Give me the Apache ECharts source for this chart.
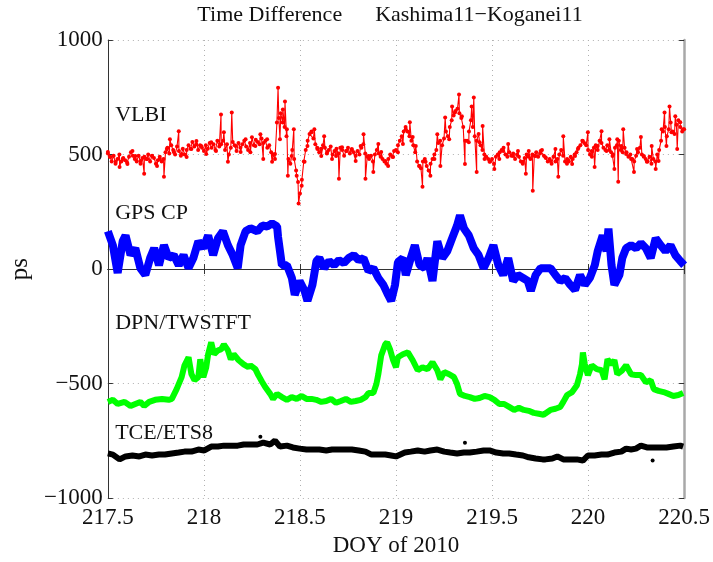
<!DOCTYPE html>
<html><head><meta charset="utf-8">
<script src="https://cdn.jsdelivr.net/npm/echarts@6/dist/echarts.min.js"></script>
<style>html,body{margin:0;padding:0;background:#fff}#c{width:713px;height:562px}</style>
</head><body><div id="c"></div>
<script>
// ---- data (DOY, ps) ----
const xMin = 217.5, xMax = 220.5, xStep = 0.5;
const yMin = -1000, yMax = 1000, yStep = 500;
const titleText = 'Time Difference      Kashima11\u2212Koganei11';

// VLBI: individual readings (incl. spikes)
const vlbi = [[217.500,511],[217.515,489],[217.541,468],[217.561,446],[217.577,481],[217.602,459],[217.628,515],[217.643,494],[217.669,472],[217.689,416],[217.705,481],[217.730,494],[217.756,450],[217.771,481],[217.792,403],[217.807,524],[217.823,567],[217.843,511],[217.869,602],[217.884,502],[217.910,489],[217.935,524],[217.961,559],[217.986,537],[218.012,502],[218.038,554],[218.063,515],[218.089,675],[218.104,597],[218.125,468],[218.145,684],[218.166,537],[218.191,511],[218.217,567],[218.242,510],
[218.268,537],[218.294,589],[218.309,481],[218.329,567],[218.355,468],[218.370,502],[218.386,792],[218.396,567],[218.411,697],[218.422,732],[218.432,610],[218.437,407],[218.457,494],[218.468,610],[218.483,407],[218.493,286],[218.509,364],[218.524,468],[218.539,537],[218.560,597],[218.575,610],[218.591,524],[218.611,494],[218.626,580],[218.642,511],[218.667,481],[218.688,494],[218.703,394],[218.719,532],[218.744,515],[218.770,524],[218.790,472],[218.816,537],[218.831,589],[218.841,394],[218.857,494],[218.882,424],[218.908,546],[218.923,511],[218.944,472],[218.959,450],[218.985,489],[219.010,510],
[219.036,546],[219.051,610],[219.072,641],[219.087,576],[219.103,537],[219.123,450],[219.138,359],[219.154,468],[219.179,407],[219.200,481],[219.215,589],[219.231,450],[219.256,662],[219.277,567],[219.292,710],[219.307,684],[219.328,762],[219.343,667],[219.359,459],[219.379,554],[219.394,710],[219.405,749],[219.420,424],[219.435,554],[219.451,624],[219.461,481],[219.487,468],[219.512,437],[219.538,481],[219.558,515],[219.584,546],[219.609,494],[219.635,515],[219.661,468],[219.676,416],[219.691,515],[219.712,342],[219.727,494],[219.753,515],[219.778,488],
[219.804,472],[219.830,524],[219.845,403],[219.871,580],[219.891,481],[219.917,459],[219.932,494],[219.947,524],[219.973,559],[219.999,597],[220.019,515],[220.034,446],[220.050,537],[220.070,602],[220.096,515],[220.111,567],[220.127,494],[220.137,437],[220.152,567],[220.157,381],[220.173,537],[220.183,610],[220.198,502],[220.224,481],[220.239,424],[220.255,524],[220.275,576],[220.290,494],[220.306,468],[220.331,537],[220.352,437],[220.367,472],[220.383,610],[220.398,684],[220.408,537],[220.424,710],[220.434,597],[220.454,667],[220.464,524],[220.480,641],[220.495,610]];

// VLBI dense core, one reading every 0.01 day starting at 217.50
const vlbiCoreStart = 217.5, vlbiCoreStep = 0.01;
const vlbiCore = [
505,490,470,495,460,480,500,470,485,475,
465,490,510,495,480,470,495,460,485,490,
480,500,470,495,485,460,475,490,470,480,
510,530,505,540,520,500,535,515,495,525,
500,520,540,525,555,535,545,520,540,530,
515,540,525,550,530,545,520,560,535,545,
560,520,545,500,530,555,540,515,550,530,
545,560,535,520,550,575,540,565,555,545,
570,550,560,530,540,510,500,480,640,660,
680,640,620,580,480,460,520,480,430,380,
330,390,470,520,560,590,600,570,545,530,
510,525,540,530,505,520,535,500,515,525,
505,530,520,495,515,530,505,520,510,495,
515,500,530,545,505,490,480,495,470,500,
520,505,490,480,470,460,480,500,490,515,
520,540,560,580,600,620,600,580,560,540,
510,470,450,440,470,480,450,430,460,480,
500,520,550,560,540,570,600,580,620,650,
670,690,700,680,660,620,560,560,600,650,
620,580,560,590,540,520,500,490,480,470,
480,460,490,500,510,520,530,500,490,510,
495,505,480,500,490,470,460,485,500,490,
480,500,495,510,490,505,520,495,485,470,
480,460,490,470,480,500,520,495,470,460,
470,490,480,500,510,530,540,560,550,540,
520,500,490,530,540,520,560,550,530,520,
540,520,510,500,530,540,560,520,510,530,
510,490,500,480,470,495,510,530,500,490,
480,470,490,460,480,470,500,520,560,600,
620,580,610,640,600,590,630,650,620,600,
610];

const gpsCP = [[217.500,165],[217.526,104],[217.551,-17],[217.577,121],[217.592,147],[217.618,61],[217.643,91],[217.669,4],[217.695,-26],[217.720,48],[217.741,91],[217.766,17],[217.792,104],[217.817,48],[217.843,61],[217.869,17],[217.894,61],[217.920,4],[217.945,48],[217.971,121],[217.997,91],[218.022,147],[218.048,61],[218.073,134],[218.099,165],[218.125,104],[218.150,61],[218.176,4],[218.191,104],[218.217,165],[218.242,178],[218.278,165],[218.304,190],[218.330,186],[218.355,199],[218.381,186],[218.386,140],[218.406,17],[218.432,17],[218.458,-39],[218.473,-113],[218.498,-52],[218.524,-95],[218.539,-139],[218.565,-69],[218.586,35],[218.601,48],[218.626,4],[218.652,35],[218.678,17],[218.703,39],[218.729,26],[218.754,48],[218.780,61],[218.806,39],[218.831,48],[218.857,-9],[218.882,4],[218.908,-39],[218.934,-69],[218.959,-113],[218.975,-139],[218.995,-69],[219.010,30],[219.036,48],[219.051,-26],[219.077,48],[219.098,104],[219.123,17],[219.149,4],[219.164,48],[219.190,-52],[219.215,121],[219.241,48],[219.267,78],[219.292,134],[219.318,190],[219.333,234],[219.354,177],[219.379,147],[219.405,91],[219.430,61],[219.456,4],[219.482,48],[219.507,104],[219.533,17],[219.558,-26],[219.584,48],[219.610,-52],[219.635,-26],[219.661,-39],[219.686,-52],[219.702,-95],[219.727,-26],[219.753,4],[219.779,4],[219.804,4],[219.830,-26],[219.855,-52],[219.881,-39],[219.907,-69],[219.932,-91],[219.958,-26],[219.983,-69],[220.009,-39],[220.035,17],[220.050,78],[220.076,147],[220.096,78],[220.106,177],[220.122,17],[220.137,-69],[220.163,-26],[220.178,48],[220.198,91],[220.224,104],[220.250,91],[220.275,113],[220.301,91],[220.326,48],[220.352,134],[220.378,104],[220.403,78],[220.429,104],[220.454,61],[220.480,35],[220.500,17]];

const dpnTwstft = [[217.500,-580],[217.526,-571],[217.551,-589],[217.587,-580],[217.618,-598],[217.643,-589],[217.669,-580],[217.689,-598],[217.715,-580],[217.746,-571],[217.782,-567],[217.817,-571],[217.833,-567],[217.858,-524],[217.884,-472],[217.899,-420],[217.920,-385],[217.935,-459],[217.951,-485],[217.971,-472],[217.981,-394],[217.997,-472],[218.012,-429],[218.022,-372],[218.038,-320],[218.053,-372],[218.073,-355],[218.089,-351],[218.104,-329],[218.125,-355],[218.140,-394],[218.155,-372],[218.181,-398],[218.207,-416],[218.232,-429],[218.242,-420],[218.268,-437],[218.283,-463],[218.304,-494],[218.319,-515],[218.345,-545],[218.360,-567],[218.381,-545],[218.406,-559],[218.432,-571],[218.457,-559],[218.483,-567],[218.509,-554],[218.534,-567],[218.560,-567],[218.585,-571],[218.611,-580],[218.637,-576],[218.662,-567],[218.688,-584],[218.713,-576],[218.739,-567],[218.765,-580],[218.790,-576],[218.816,-571],[218.841,-559],[218.857,-541],[218.882,-541],[218.898,-502],[218.908,-459],[218.923,-377],[218.944,-329],[218.954,-320],[218.969,-351],[218.985,-398],[219.000,-429],[219.010,-385],[219.036,-372],[219.062,-364],[219.087,-398],[219.113,-442],[219.138,-429],[219.164,-437],[219.190,-407],[219.215,-442],[219.231,-481],[219.251,-450],[219.277,-459],[219.302,-472],[219.318,-502],[219.333,-545],[219.359,-554],[219.384,-559],[219.410,-567],[219.435,-563],[219.461,-554],[219.487,-559],[219.512,-571],[219.538,-589],[219.563,-589],[219.589,-602],[219.615,-615],[219.640,-606],[219.666,-615],[219.691,-619],[219.717,-628],[219.743,-632],[219.768,-636],[219.778,-632],[219.804,-615],[219.830,-610],[219.855,-602],[219.871,-580],[219.891,-550],[219.917,-537],[219.942,-507],[219.958,-459],[219.968,-416],[219.973,-364],[219.983,-416],[219.999,-463],[220.019,-420],[220.045,-437],[220.070,-442],[220.086,-481],[220.101,-394],[220.121,-416],[220.137,-398],[220.152,-459],[220.178,-442],[220.198,-420],[220.224,-459],[220.249,-463],[220.275,-463],[220.301,-494],[220.326,-485],[220.342,-524],[220.367,-532],[220.393,-537],[220.418,-545],[220.444,-554],[220.470,-550],[220.495,-541]];

const tceEts8 = [[217.500,-805],[217.526,-810],[217.561,-831],[217.592,-818],[217.628,-814],[217.664,-818],[217.695,-810],[217.730,-814],[217.766,-810],[217.797,-810],[217.833,-805],[217.869,-801],[217.899,-797],[217.935,-797],[217.971,-788],[218.002,-792],[218.038,-775],[218.073,-775],[218.104,-771],[218.140,-771],[218.176,-771],[218.207,-766],[218.242,-766],[218.278,-766],[218.309,-758],[218.345,-766],[218.370,-749],[218.396,-775],[218.432,-771],[218.463,-779],[218.498,-784],[218.534,-788],[218.565,-788],[218.601,-788],[218.637,-792],[218.667,-788],[218.703,-788],[218.739,-788],[218.770,-788],[218.806,-792],[218.841,-797],[218.872,-810],[218.908,-810],[218.944,-810],[218.975,-814],[219.000,-818],[219.010,-810],[219.046,-801],[219.077,-797],[219.113,-792],[219.149,-797],[219.179,-792],[219.215,-788],[219.251,-797],[219.282,-801],[219.318,-805],[219.353,-801],[219.384,-801],[219.420,-797],[219.456,-792],[219.487,-792],[219.522,-801],[219.558,-805],[219.589,-805],[219.625,-810],[219.661,-814],[219.691,-822],[219.727,-827],[219.763,-831],[219.778,-831],[219.814,-827],[219.840,-818],[219.871,-831],[219.906,-831],[219.942,-831],[219.973,-836],[219.999,-814],[220.034,-814],[220.070,-810],[220.101,-810],[220.137,-801],[220.173,-797],[220.198,-784],[220.224,-788],[220.249,-784],[220.275,-771],[220.306,-779],[220.342,-779],[220.377,-779],[220.408,-779],[220.444,-775],[220.480,-771],[220.495,-775]];
const tceOutliers = [[218.294,-732],[219.359,-758],[220.336,-836]];

const seriesNames = ['VLBI', 'GPS CP', 'DPN/TWSTFT', 'TCE/ETS8'];
const nameDoy = [217.538, 217.538, 217.538, 217.538];
const nameVal = [672, 242, -238, -715];

// ---- build ----
const vlbiAll = vlbi.concat(vlbiCore.map((v, i) => [+(vlbiCoreStart + i * vlbiCoreStep).toFixed(3), v]))
  .sort((a, b) => a[0] - b[0]);

const font = '"Liberation Serif", "Times New Roman", serif';
const chart = echarts.init(document.getElementById('c'), null, {renderer: 'canvas'});
const fmt = v => String(v).replace('-', '\u2212');
const axisLineCol = '#333';
const gridCol = '#b0b0b0';
const textCol = '#111';

const option = {
  animation: false,
  backgroundColor: '#fff',
  graphic: [{
    type: 'text', x: 390, y: 15,
    style: {text: titleText, font: '22px ' + font, fill: textCol, textAlign: 'center', textVerticalAlign: 'middle'}
  }],
  grid: {left: 100, right: 27, top: 40, bottom: 60},
  xAxis: [{
    type: 'value', min: xMin, max: xMax, interval: xStep, position: 'bottom',
    axisLine: {lineStyle: {color: axisLineCol, width: 1}},
    axisTick: {inside: true, length: 5, lineStyle: {color: axisLineCol}},
    axisLabel: {fontFamily: font, fontSize: 23, color: textCol, margin: 8, formatter: v => fmt(v)},
    splitLine: {show: true, lineStyle: {color: gridCol, type: [1, 4], width: 1}},
    name: 'DOY of 2010', nameLocation: 'middle', nameGap: 32,
    nameTextStyle: {fontFamily: font, fontSize: 23, color: textCol}
  }, {
    type: 'value', min: xMin, max: xMax, interval: xStep, position: 'top',
    axisLine: {lineStyle: {color: axisLineCol, width: 1}},
    axisTick: {inside: true, length: 5, lineStyle: {color: axisLineCol}},
    axisLabel: {show: false}, splitLine: {show: false}
  }],
  yAxis: [{
    type: 'value', min: yMin, max: yMax, interval: yStep, position: 'left',
    axisLine: {show: true, lineStyle: {color: axisLineCol, width: 1}},
    axisTick: {show: true, inside: true, length: 5, lineStyle: {color: axisLineCol}},
    axisLabel: {fontFamily: font, fontSize: 23, color: textCol, margin: 5, formatter: v => fmt(v)},
    splitLine: {show: true, lineStyle: {color: gridCol, type: [1, 4], width: 1}},
    name: 'ps', nameLocation: 'middle', nameGap: 66, nameRotate: 90,
    nameTextStyle: {fontFamily: font, fontSize: 25, color: textCol}
  }, {
    type: 'value', min: yMin, max: yMax, interval: yStep, position: 'right',
    axisLine: {show: true, lineStyle: {color: '#a8a8a8', width: 2.5}},
    axisTick: {show: true, inside: true, length: 5, lineStyle: {color: axisLineCol}},
    axisLabel: {show: false}, splitLine: {show: false}
  }],
  series: [
    {name: 'TCE/ETS8', type: 'line', data: tceEts8, showSymbol: false,
     lineStyle: {color: '#000', width: 6}, z: 2},
    {name: 'TCE/ETS8 outliers', type: 'scatter', data: tceOutliers, symbolSize: 4,
     itemStyle: {color: '#000', opacity: 1}, z: 2},
    {name: 'DPN/TWSTFT', type: 'line', data: dpnTwstft, showSymbol: false,
     lineStyle: {color: '#00ff00', width: 6}, z: 2},
    {name: 'GPS CP', type: 'line', data: gpsCP, showSymbol: false,
     lineStyle: {color: '#0000ff', width: 8}, z: 2},
    {name: 'VLBI', type: 'line', data: vlbiAll, symbol: 'circle', symbolSize: 4, showAllSymbol: true,
     lineStyle: {color: '#ff0000', width: 1.1}, itemStyle: {color: '#ff0000'}, z: 3},
    {name: 'labels', type: 'scatter', symbolSize: 0, itemStyle: {color: textCol, opacity: 1},
     data: seriesNames.map((n, i) => ({name: n, value: [nameDoy[i], nameVal[i]]})),
     label: {show: true, position: 'right', distance: 0, formatter: '{b}', opacity: 1,
             fontFamily: font, fontSize: 22, color: textCol}, z: 4}
  ]
};
chart.setOption(option);
</script>
</body></html>
